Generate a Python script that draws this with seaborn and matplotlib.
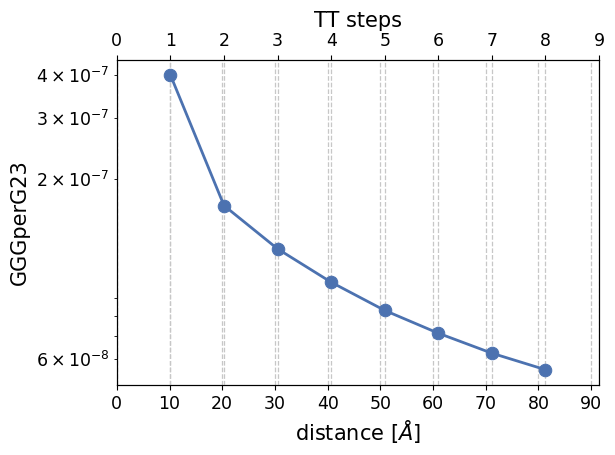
import matplotlib
matplotlib.use("Agg")
import matplotlib.pyplot as plt
import seaborn as sns
import pandas as pd

# data
tt_steps = [1, 2, 3, 4, 5, 6, 7, 8]
gggperg23 = [4.0e-7, 1.67e-7, 1.25e-7, 1.0e-7, 8.28e-8, 7.11e-8, 6.22e-8, 5.57e-8]
dist_ticks = [0, 10, 20, 30, 40, 50, 60, 70, 80, 90]
step_ticks = [0, 1, 2, 3, 4, 5, 6, 7, 8, 9]
y_ticks = [6e-8, 7e-8, 8e-8, 9e-8, 2e-7, 3e-7, 4e-7]
y_labels = [r"$6\times10^{-8}$", "", "", "", r"$2\times10^{-7}$", r"$3\times10^{-7}$", r"$4\times10^{-7}$"]

df = pd.DataFrame({"step": tt_steps, "value": gggperg23})

sns.set_palette("deep")
plt.rcParams["font.family"] = ["DejaVu Sans"]

fig, ax = plt.subplots(figsize=(6.15, 4.55), dpi=100)
fig.subplots_adjust(left=0.19, right=0.974, bottom=0.154, top=0.868)

ax.set_yscale("log")
ax.set_xlim(0, 91.5)
ax.set_xticks(dist_ticks)
ax.grid(axis="x", ls="--", color="0.78", lw=0.9)
ax.set_xlabel(r"distance [$\AA$]", fontsize=15)
ax.set_ylabel("GGGperG23", fontsize=15)
ax.tick_params(labelsize=12.5)

ax2 = ax.twiny()
ax2.set_xlim(0, 9)
ax2.set_xticks(step_ticks)
ax2.grid(axis="x", ls="--", color="0.78", lw=0.9)
ax2.tick_params(labelsize=12.5)

sns.lineplot(data=df, x="step", y="value", marker="o", markersize=9,
             linewidth=2, markeredgecolor="#4c72b0", ax=ax2)
ax2.set_xlabel("TT steps", fontsize=15)
ax2.set_ylabel("")

ax.yaxis.set_major_locator(matplotlib.ticker.NullLocator())
ax.set_yticks(y_ticks, minor=True)
ax.set_yticklabels(y_labels, minor=True)
ax.tick_params(axis="y", which="minor", labelsize=12.5)
ax.set_ylim(5.03e-8, 4.42e-7)

fig.savefig("out.png", dpi=100)
